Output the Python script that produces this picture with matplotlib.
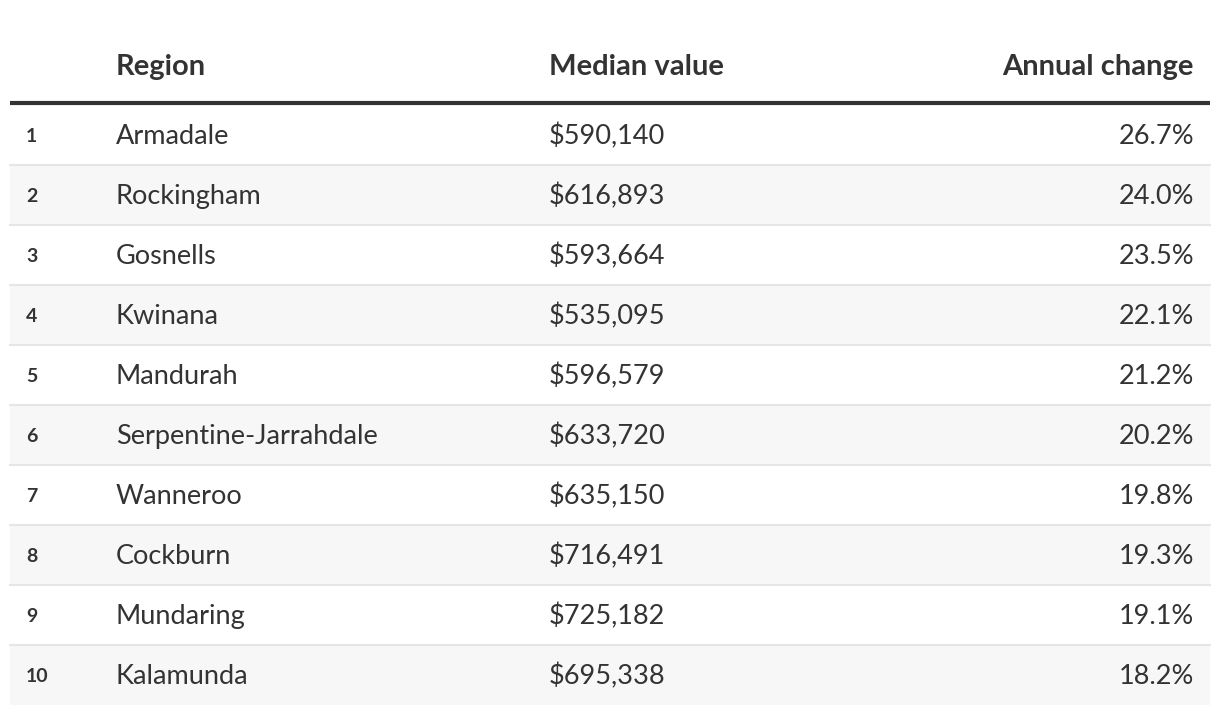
import matplotlib
matplotlib.use("Agg")
import matplotlib.pyplot as plt

# table data
ranks = ["1", "2", "3", "4", "5", "6", "7", "8", "9", "10"]
regions = ["Armadale", "Rockingham", "Gosnells", "Kwinana", "Mandurah",
           "Serpentine-Jarrahdale", "Wanneroo", "Cockburn", "Mundaring", "Kalamunda"]
median_values = ["$590,140", "$616,893", "$593,664", "$535,095", "$596,579",
                 "$633,720", "$635,150", "$716,491", "$725,182", "$695,338"]
annual_change = ["26.7%", "24.0%", "23.5%", "22.1%", "21.2%",
                 "20.2%", "19.8%", "19.3%", "19.1%", "18.2%"]
headers = ["Region", "Median value", "Annual change"]

plt.rcParams['font.family'] = ['Lato', 'DejaVu Sans']

W, H = 1220, 714
fig = plt.figure(figsize=(W / 100, H / 100), dpi=100)
ax = fig.add_axes([0, 0, 1, 1])
ax.set_xlim(0, W)
ax.set_ylim(H, 0)
ax.axis("off")

txt = "#333333"
left, right = 10, 1210
top_row = 105
row_h = 60

# header
hdr = dict(fontsize=21, fontweight="bold", color=txt, va="center")
ax.text(116, 67, headers[0], **hdr)
ax.text(549, 67, headers[1], **hdr)
ax.text(1194, 67, headers[2], ha="right", **hdr)
ax.plot([left, right], [103, 103], color="#333333", lw=3, solid_capstyle="butt")

for i in range(len(regions)):
    y0 = top_row + i * row_h
    bg = "#f7f7f7" if i % 2 == 1 else "white"
    ax.add_patch(plt.Rectangle((left, y0), right - left, row_h, color=bg, lw=0))
    if i < len(regions) - 1:
        ax.plot([left, right], [y0 + row_h, y0 + row_h], color="#e6e6e6", lw=1.5)
    yc = y0 + row_h / 2 + 1.5
    ax.text(26, yc, ranks[i], fontsize=14, fontweight="bold", color=txt, va="center")
    ax.text(116, yc, regions[i], fontsize=19.5, color=txt, va="center")
    ax.text(549, yc, median_values[i], fontsize=19.5, color=txt, va="center")
    ax.text(1194, yc, annual_change[i], fontsize=19.5, color=txt, va="center", ha="right")

fig.savefig("out.png", dpi=100)
